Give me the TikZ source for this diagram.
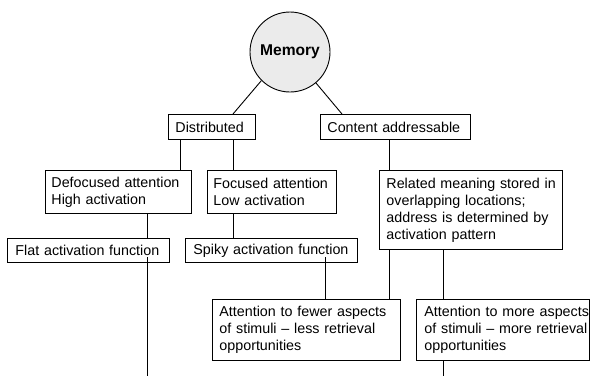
\documentclass[tikz,border=0pt]{standalone}
\usepackage{fontspec}
\setmainfont{Liberation Sans}
\begin{document}
\begin{tikzpicture}[x=1pt,y=-1pt,
  box/.style={draw=black, line width=0.9pt, anchor=north west, inner xsep=7pt, inner ysep=0pt,
    align=left, font=\fontsize{14.3}{17}\selectfont},
  conn/.style={draw=black, line width=0.9pt},
  memc/.style={circle, draw=black, line width=0.9pt, fill=black!8, minimum size=80pt, inner sep=0pt,
    font=\bfseries\fontsize{15.6}{18}\selectfont}]
\useasboundingbox (0,0) rectangle (590,376);

\node[memc] (mem) at (290,52) {Memory};

\node[box, minimum width=87pt, minimum height=25pt, text width=73pt] (dist) at (168,114) {\mbox{Distributed}};
\node[box, minimum width=150pt, minimum height=25pt, text width=136pt] (cont) at (320,114) {\mbox{Content addressable}};

\node[box, minimum width=146pt, minimum height=43pt, text width=134pt, inner xsep=6pt] (defoc) at (45,170) {\mbox{Defocused attention}\\\mbox{High activation}};
\node[box, minimum width=129pt, minimum height=43pt, text width=117pt, inner xsep=6pt] (foc) at (207,170) {\mbox{Focused attention}\\\mbox{Low activation}};
\node[box, minimum width=183pt, minimum height=79pt, text width=169pt] (rel) at (379,170) {\mbox{Related meaning stored in}\\\mbox{overlapping locations;}\\\mbox{address is determined by}\\\mbox{activation pattern}};

\node[box, minimum width=162pt, minimum height=24pt, text width=146pt, inner xsep=8pt] (flat) at (7,238) {\mbox{Flat activation function}};
\node[box, minimum width=172pt, minimum height=24pt, text width=156pt, inner xsep=8pt] (spiky) at (185,238) {\mbox{Spiky activation function}};

\node[box, minimum width=188pt, minimum height=61pt, text width=174pt] (fewer) at (212,299) {\mbox{Attention to fewer aspects}\\\mbox{of stimuli -- less retrieval}\\\mbox{opportunities}};
\node[box, minimum width=173pt, minimum height=61pt, text width=157pt, inner xsep=8pt] (more) at (416,299) {\mbox{Attention to more aspects}\\\mbox{of stimuli -- more retrieval}\\\mbox{opportunities}};

\coordinate (xa) at (180,0);
\coordinate (xb) at (233,0);
\coordinate (xc) at (342,0);
\coordinate (xd) at (389,0);
\coordinate (xe) at (147,0);
\coordinate (xf) at (325,0);
\coordinate (xg) at (443,0);
\coordinate (flatin) at (147,257);
\coordinate (spikyin) at (325,257);
\coordinate (endl) at (147,376);
\coordinate (endr) at (443,376);

\draw[conn] (mem.south west) -- (dist.north -| xb);
\draw[conn] (mem.-50) -- (cont.north -| xc);
\draw[conn] (dist.south -| xa) -- (defoc.north -| xa);
\draw[conn] (dist.south -| xb) -- (foc.north -| xb);
\draw[conn] (cont.south -| xd) -- (rel.north -| xd);
\draw[conn] (defoc.south -| xe) -- (flat.north -| xe);
\draw[conn] (foc.south -| xb) -- (spiky.north -| xb);
\draw[conn] (flatin) -- (endl);
\draw[conn] (spikyin) -- (fewer.north -| xf);
\draw[conn] (rel.south -| xd) -- (fewer.north -| xd);
\draw[conn] (rel.south -| xg) -- (more.north -| xg);
\draw[conn] (more.south -| xg) -- (endr);
\end{tikzpicture}
\end{document}
